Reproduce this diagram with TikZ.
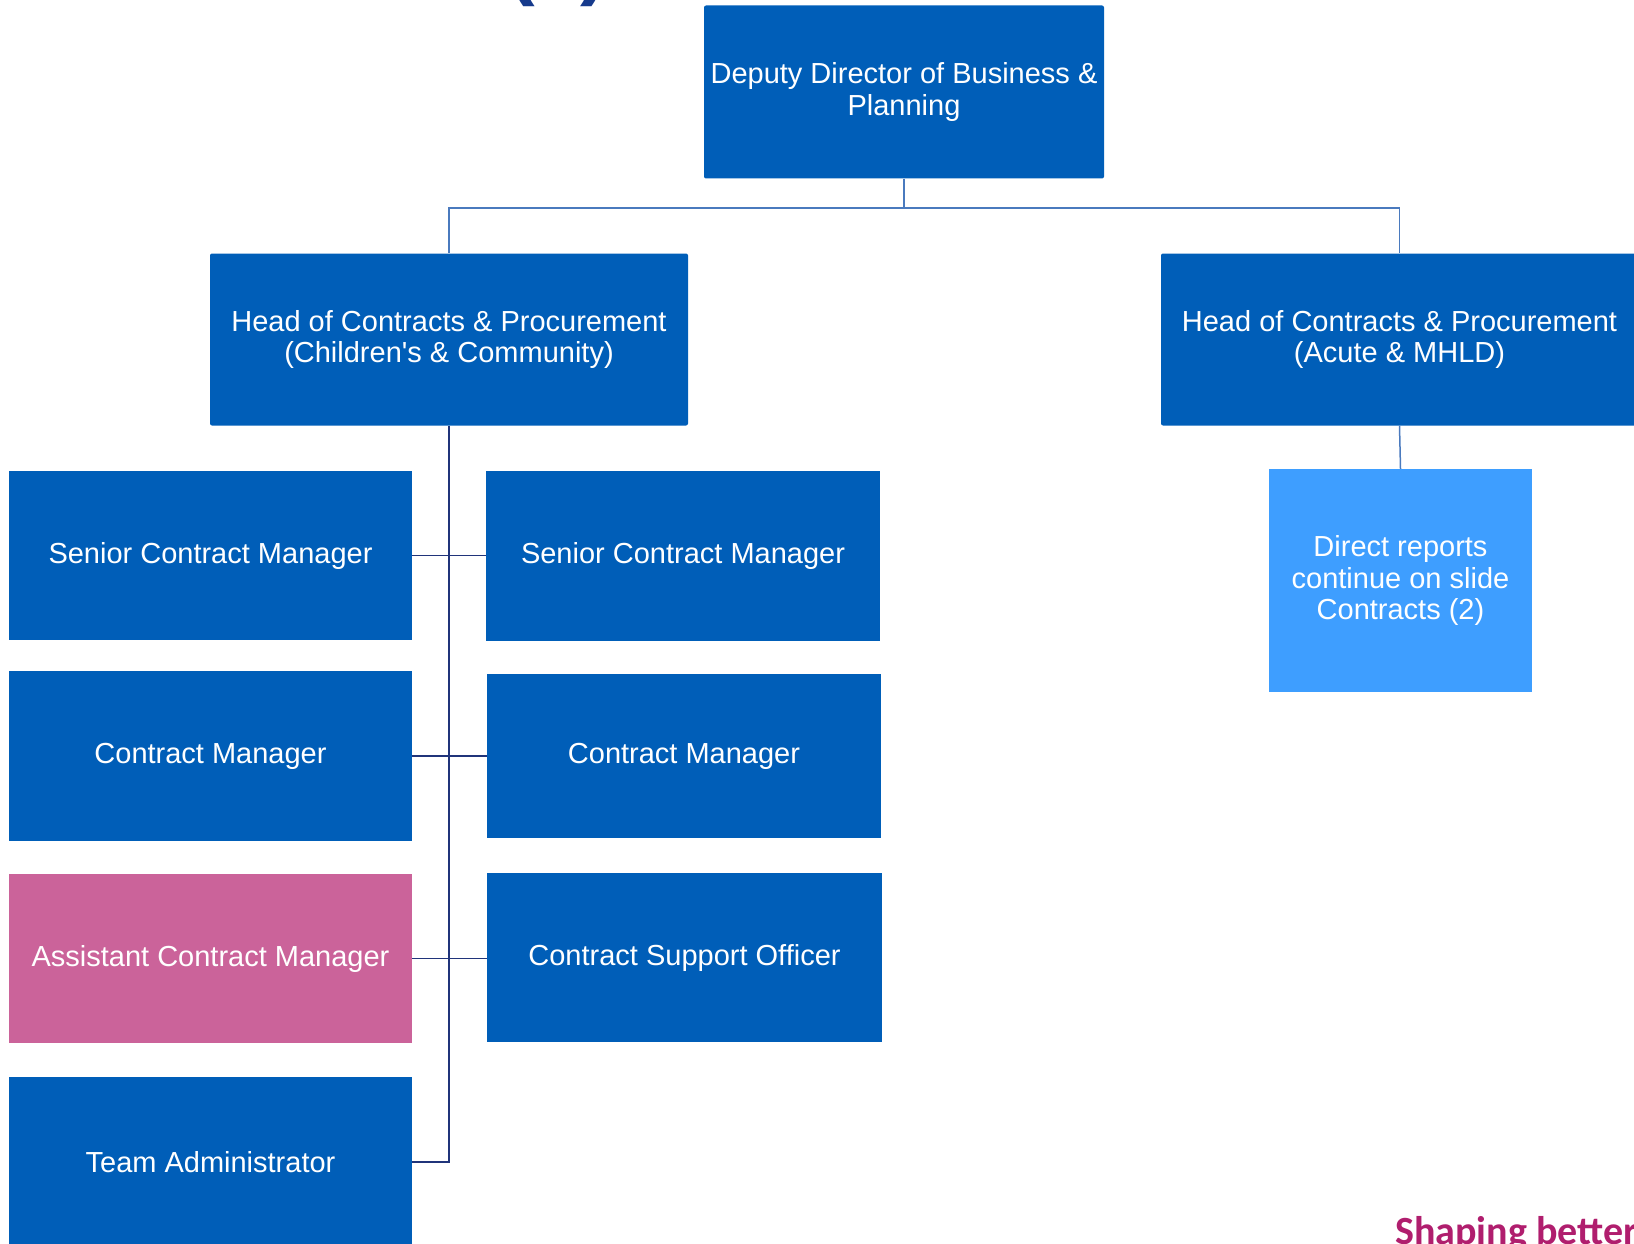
\documentclass[tikz,border=0pt]{standalone}
\usepackage{fontspec}
\setmainfont{Liberation Sans}
\newfontfamily\shapefont{Carlito}
\definecolor{nhsblue}{RGB}{0,94,184}
\definecolor{lightbox}{RGB}{62,158,255}
\definecolor{pinkbox}{RGB}{203,99,154}
\definecolor{busline}{RGB}{74,122,190}
\definecolor{trunkline}{RGB}{32,52,122}
\definecolor{titleblue}{RGB}{22,58,140}
\definecolor{magentatxt}{RGB}{176,30,110}
\begin{document}
\begin{tikzpicture}[x=1pt,y=-1pt,
  box/.style={rectangle,fill=nhsblue,text=white,align=center,inner sep=0pt,
    font=\fontsize{29}{31.5}\selectfont},
  rbox/.style={box,rounded corners=2pt},
  bus/.style={draw=busline,line width=1.5pt},
  trunk/.style={draw=trunkline,line width=1.3pt}]
\useasboundingbox (0,0) rectangle (1634,1244);
% partial title and footer
\node[anchor=base west,text=titleblue,font=\fontsize{83}{90}\selectfont\bfseries,inner sep=0pt] (title) at (507,-10.5) {(1)};
\node[anchor=base west,text=magentatxt,font=\shapefont\fontsize{40}{44}\selectfont\bfseries,inner sep=0pt] (footer) at (1395,1244) {Shaping better};
% nodes
\node[rbox,minimum width=400,minimum height=173] (top) at (904,92) {Deputy Director of Business \&\\Planning};
\node[rbox,minimum width=478,minimum height=172] (head1) at (449,339.5) {Head of Contracts \& Procurement\\(Children\textquotesingle s \& Community)};
\node[rbox,minimum width=477,minimum height=172] (head2) at (1399.5,339.5) {Head of Contracts \& Procurement\\(Acute \& MHLD)};
\node[box,fill=lightbox,minimum width=263,minimum height=223] (direct) at (1400.5,580.5) {Direct reports\\continue on slide\\Contracts (2)};
\node[box,minimum width=403,minimum height=169] (scmL) at (210.5,555.5) {Senior Contract Manager};
\node[box,minimum width=403,minimum height=170] (cmL) at (210.5,756) {Contract Manager};
\node[box,fill=pinkbox,minimum width=403,minimum height=169] (acmL) at (210.5,958.5) {Assistant Contract Manager};
\node[box,minimum width=403,minimum height=170] (taL) at (210.5,1162) {Team Administrator};
\node[box,minimum width=394,minimum height=170] (scmR) at (683,556) {Senior Contract Manager};
\node[box,minimum width=394,minimum height=164] (cmR) at (684,756) {Contract Manager};
\node[box,minimum width=395,minimum height=169] (csoR) at (684.5,957.5) {Contract Support Officer};
% connectors
\coordinate (busy) at (0,208);
\draw[bus] (top.south) -- (top.south |- busy) -| (head1.north);
\draw[bus] (top.south |- busy) -| (head2.north);
\draw[bus] (head2.south) -- (direct.north);
\draw[trunk] (head1.south) -- (head1.south |- taL.east) -- (taL.east);
\draw[trunk] (scmL.east) -- (scmL.east -| scmR.west);
\draw[trunk] (cmL.east) -- (cmL.east -| cmR.west);
\draw[trunk] (acmL.east) -- (acmL.east -| csoR.west);
\end{tikzpicture}
\end{document}
